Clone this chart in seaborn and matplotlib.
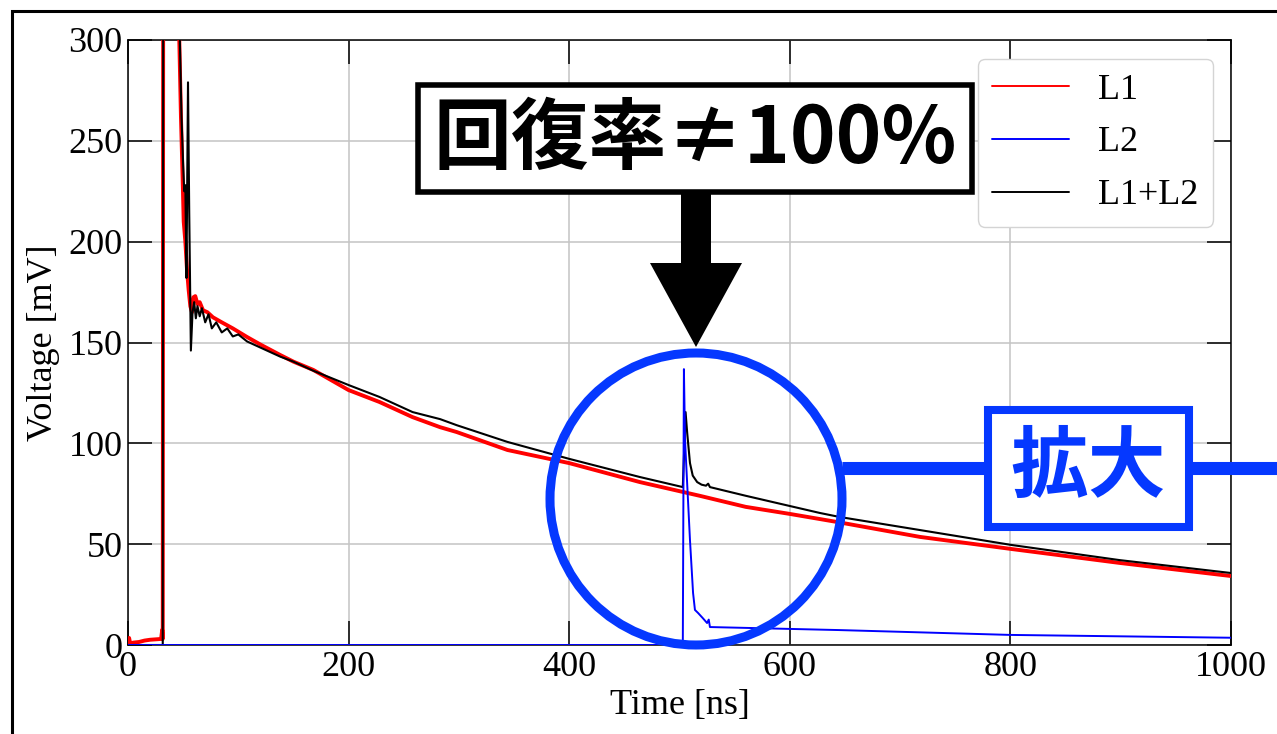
import matplotlib
matplotlib.use("Agg")
import matplotlib.pyplot as plt
import pandas as pd
import seaborn as sns
from matplotlib.lines import Line2D
from matplotlib.patches import Rectangle, Polygon, Ellipse

# ---- waveform samples (time in ns, voltage in mV) ----
t_l1 = [0, 1, 2, 5, 10, 15, 20, 25, 30, 31, 31.5, 32, 45, 46.5, 48, 49.5, 50.5,
        52, 53.5, 55, 56.5, 58, 59.5, 61, 63, 65, 68, 72, 77, 85, 95, 108, 120,
        138, 150, 168, 200, 228, 258, 283, 298, 344, 400, 464, 519, 560, 600,
        645, 718, 801, 899, 1000]
v_l1 = [1.0, 3.5, 0.8, 1.2, 1.5, 2.2, 2.6, 2.8, 3.0, 7.5, 3.0, 400, 400, 300,
        262, 232, 210, 200, 186, 176, 168, 165, 172.5, 173, 169, 170, 166, 165,
        162.5, 160, 157, 152.7, 149, 143.8, 140.5, 136.4, 126.4, 120.5, 113,
        108, 105.6, 96.7, 90.2, 80.8, 73.9, 68.5, 65, 60.8, 53.6, 47.6, 40.7,
        34.2]

t_l2 = [0, 503, 504, 505, 506.5, 509.5, 512.3, 514, 516.8, 521, 525, 526.5,
        527.6, 645, 800, 1000]
v_l2 = [0, 0, 136.8, 101.7, 85, 52, 25.8, 17.4, 15.9, 13.4, 10.9, 12.6, 8.9,
        7.4, 5.0, 3.6]

t_sum = [0, 31.5, 32, 45.5, 47, 48.5, 50, 51, 52, 53, 54.4, 55.5, 57, 58.5, 60,
         61.5, 63, 65, 67, 70, 73, 76, 80, 85, 90, 95, 100, 108, 120, 138, 150,
         168, 200, 228, 258, 283, 298, 344, 400, 464, 503, 505.5, 507, 509.5,
         512, 516, 520, 524, 526, 527.6, 560, 627, 645, 718, 801, 899, 1000]
v_sum = [0, 0, 400, 400, 300, 262, 238, 225, 228, 182, 279, 215, 146, 165, 170,
         162, 168, 163, 167, 160, 164, 157, 160, 155, 157, 153, 154, 150.5,
         147.5, 143, 140.5, 136, 128.9, 123, 115.5, 112, 109, 100.7, 92.3, 83.3,
         78.3, 115.5, 105, 90.2, 84, 80.8, 79.5, 79, 80, 78.3, 74, 65.5, 63.5,
         57, 49.6, 42.1, 35.7]

series_names = ["L1", "L2", "L1+L2"]
series_colors = ["#ff0000", "#0000ff", "#000000"]

x_ticks = [0, 200, 400, 600, 800, 1000]
y_ticks = [0, 50, 100, 150, 200, 250, 300]

title_text = "回復率\u2260100%"
zoom_text = "拡大"
accent = "#0538ff"

sns.set_style("ticks")
plt.rcParams["font.family"] = ["Liberation Serif", "DejaVu Serif"]
for key in ["text.color", "axes.labelcolor", "xtick.color", "ytick.color",
            "axes.edgecolor"]:
    plt.rcParams[key] = "black"

W, H = 1277, 734
fig = plt.figure(figsize=(W / 100, H / 100), dpi=100)
fig.patch.set_facecolor("white")
ax = fig.add_axes([128 / W, 1 - 645 / H, 1103 / W, 605 / H])


def fx(x):
    return x / W


def fy(y):
    return 1 - y / H


df1 = pd.DataFrame({"t": t_l1, "v": v_l1})
df2 = pd.DataFrame({"t": t_l2, "v": v_l2})
df3 = pd.DataFrame({"t": t_sum, "v": v_sum})

sns.lineplot(data=df1, x="t", y="v", ax=ax, color=series_colors[0], lw=2.8,
             estimator=None, sort=False, zorder=3)
sns.lineplot(data=df3, x="t", y="v", ax=ax, color=series_colors[2], lw=1.5,
             estimator=None, sort=False, zorder=4)
sns.lineplot(data=df2, x="t", y="v", ax=ax, color=series_colors[1], lw=1.4,
             estimator=None, sort=False, zorder=5)

ax.set_xlim(0, 1000)
ax.set_ylim(0, 300)
ax.set_xticks(x_ticks)
ax.set_yticks(y_ticks)
ax.set_xlabel("Time [ns]", fontsize=26, labelpad=4, color="black")
ax.set_ylabel("Voltage [mV]", fontsize=26, labelpad=6, color="black")
ax.tick_params(direction="in", length=17, width=1.1, top=True, right=True,
               labelsize=26, pad=4, color="black", labelcolor="black")
ax.grid(True, color="#c4c4c4", lw=1.1)
ax.set_axisbelow(True)
for s in ax.spines.values():
    s.set_color("black")
    s.set_linewidth(1.1)

handles = [Line2D([], [], color=c, lw=1.4) for c in series_colors]
leg = ax.legend(handles, series_names, loc="upper right",
                bbox_to_anchor=(0.9837, 0.9686), borderaxespad=0,
                fontsize=26, handlelength=2.14, handletextpad=0.8,
                labelspacing=0.54, frameon=True, fancybox=True, framealpha=1)
leg.get_frame().set_edgecolor("#d4d4d4")
leg.get_frame().set_linewidth(1.0)
for txt in leg.get_texts():
    txt.set_color("black")

# outer frame around the figure
fig.patches.append(Rectangle((fx(12), -0.2), 2.0, fy(11) + 0.2, fill=False,
                             edgecolor="black", lw=2.2,
                             transform=fig.transFigure, clip_on=False,
                             zorder=1))

# callout box with downward arrow
fig.patches.append(Rectangle((fx(418), fy(192)), (972 - 418) / W,
                             (192 - 85) / H, facecolor="white",
                             edgecolor="black", lw=4.0,
                             transform=fig.transFigure, zorder=2))
fig.text(fx(695), fy(140), title_text, ha="center", va="center",
         fontsize=56, fontweight="bold", color="black",
         family=["Noto Sans CJK JP", "DejaVu Sans"], zorder=3)
arrow_px = [(681, 194), (711, 194), (711, 263), (742, 263), (696, 347),
            (650, 263), (681, 263)]
fig.patches.append(Polygon([(fx(x), fy(y)) for x, y in arrow_px],
                           closed=True, facecolor="black", edgecolor="none",
                           transform=fig.transFigure, zorder=2))

# highlight circle and zoom tag
fig.patches.append(Ellipse((fx(696), fy(499)), 292 / W, 292 / H, fill=False,
                           edgecolor=accent, lw=6.5,
                           transform=fig.transFigure, zorder=2))
for x0, x1 in [(842, 990), (1187, 1300)]:
    fig.lines.append(Line2D([fx(x0), fx(x1)], [fy(468), fy(468)],
                            color=accent, lw=9.4, solid_capstyle="butt",
                            transform=fig.transFigure, zorder=2))
fig.patches.append(Rectangle((fx(988), fy(527)), (1189 - 988) / W,
                             (527 - 410) / H, facecolor="white",
                             edgecolor=accent, lw=5.8,
                             transform=fig.transFigure, zorder=2))
fig.text(fx(1088), fy(468), zoom_text, ha="center", va="center",
         fontsize=56, fontweight="bold", color=accent,
         family=["Noto Sans CJK JP", "DejaVu Sans"], zorder=3)

fig.savefig("out.png", dpi=100)
